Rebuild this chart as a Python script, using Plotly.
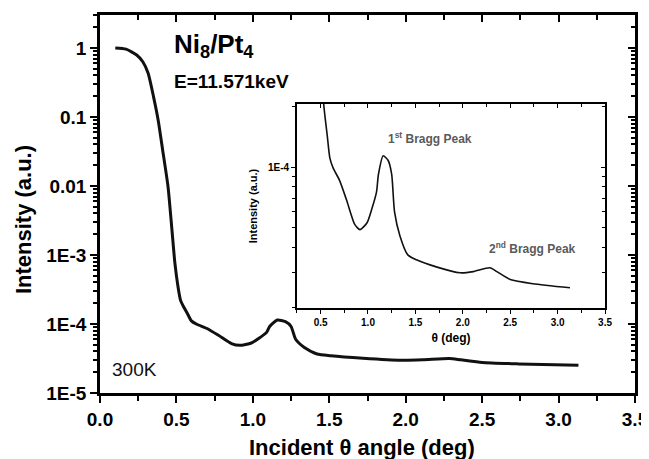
import plotly.graph_objects as go
import math

# ---- data ----
theta = [0.10, 0.17, 0.24, 0.28, 0.315, 0.35, 0.38, 0.41, 0.445, 0.47, 0.49, 0.51,
         0.527, 0.545, 0.57, 0.598, 0.633, 0.70, 0.775, 0.86, 0.915, 0.99, 1.04,
         1.09, 1.11, 1.16, 1.213, 1.25, 1.28, 1.337, 1.42, 1.51, 1.72, 1.97, 2.11,
         2.285, 2.36, 2.5, 2.74, 3.13]
intensity = [1.0, 0.96, 0.79, 0.63, 0.43, 0.197, 0.091, 0.033, 0.0098, 2.4e-3, 7.6e-4, 3.5e-4,
             2.2e-4, 1.81e-4, 1.44e-4, 1.11e-4, 9.9e-5, 8.6e-5, 6.85e-5, 5.2e-5, 4.9e-5, 5.3e-5, 6.2e-5,
             7.55e-5, 9.2e-5, 1.14e-4, 1.08e-4, 9.2e-5, 6.0e-5, 4.56e-5, 3.67e-5, 3.47e-5, 3.2e-5, 2.99e-5, 3.03e-5,
             3.17e-5, 3.03e-5, 2.77e-5, 2.64e-5, 2.52e-5]

x_tickvals = [0.0, 0.5, 1.0, 1.5, 2.0, 2.5, 3.0, 3.5]
x_ticktext = ["0.0", "0.5", "1.0", "1.5", "2.0", "2.5", "3.0", "3.5"]
y_tickvals = [1e-5, 1e-4, 1e-3, 0.01, 0.1, 1]
y_ticktext = ["1E-5", "1E-4", "1E-3", "0.01", "0.1", "1"]
y_minorvals = [k * 10.0 ** e for e in range(-5, 1) for k in range(2, 10)]

inset_x_tickvals = [0.5, 1.0, 1.5, 2.0, 2.5, 3.0, 3.5]
inset_x_ticktext = ["0.5", "1.0", "1.5", "2.0", "2.5", "3.0", "3.5"]
inset_y_tickvals = [1e-4]
inset_y_ticktext = ["1E-4"]
inset_y_minorvals = [2e-5, 3e-5, 4e-5, 5e-5, 6e-5, 7e-5, 8e-5, 9e-5, 2e-4]

FONT = "Liberation Sans, Arial, sans-serif"
BLACK = "#000000"

fig = go.Figure()
fig.add_trace(go.Scatter(x=theta, y=intensity, mode="lines",
                         line=dict(color="#111111", width=3, shape="spline", smoothing=0.6),
                         xaxis="x", yaxis="y", showlegend=False, hoverinfo="skip"))
fig.add_trace(go.Scatter(x=theta, y=intensity, mode="lines",
                         line=dict(color="#111111", width=1.6, shape="spline", smoothing=0.6),
                         xaxis="x2", yaxis="y2", showlegend=False, hoverinfo="skip"))
# empty traces so the mirrored (top/right) axes are drawn
fig.add_trace(go.Scatter(x=[], y=[], xaxis="x3", yaxis="y3", showlegend=False))
fig.add_trace(go.Scatter(x=[], y=[], xaxis="x4", yaxis="y4", showlegend=False))

main_tick = dict(family=FONT, size=19, color=BLACK, weight="bold")
ins_tick = dict(family=FONT, size=10, color=BLACK, weight="bold")

# the page body has an 8px default margin, so the figure is sized to compensate
fig.update_layout(
    template="none",
    width=641, height=451,
    margin=dict(l=92, r=14, t=7, b=66),
    paper_bgcolor="white", plot_bgcolor="white",
    showlegend=False,
    xaxis=dict(domain=[0, 1], range=[0, 3.5], anchor="y", automargin=False,
               showline=True, linecolor=BLACK, linewidth=2.6,
               ticks="outside", ticklen=7, tickwidth=2.4, tickcolor=BLACK,
               tickvals=x_tickvals, ticktext=x_ticktext, tickfont=main_tick,
               minor=dict(ticks="outside", ticklen=5, tickwidth=2.2, tickcolor=BLACK,
                          dtick=0.25, tick0=0, showgrid=False),
               showgrid=False, zeroline=False),
    yaxis=dict(domain=[0, 1], type="log", range=[-5, math.log10(3.0)], anchor="x", automargin=False,
               showline=True, linecolor=BLACK, linewidth=2.6,
               ticks="outside", ticklen=7, tickwidth=2.4, tickcolor=BLACK,
               tickvals=y_tickvals, ticktext=y_ticktext, tickfont=main_tick,
               minor=dict(ticks="outside", ticklen=4, tickwidth=1.8, tickcolor=BLACK,
                          tickvals=y_minorvals, showgrid=False),
               showgrid=False, zeroline=False),
    xaxis3=dict(overlaying="x", side="top", anchor="y", range=[0, 3.5], automargin=False,
                showline=True, linecolor=BLACK, linewidth=2.6,
                ticks="inside", ticklen=7, tickwidth=2.4, tickcolor=BLACK,
                tickvals=x_tickvals, showticklabels=False,
                minor=dict(ticks="inside", ticklen=5, tickwidth=2.2, tickcolor=BLACK,
                           dtick=0.25, tick0=0, showgrid=False),
                showgrid=False, zeroline=False),
    yaxis3=dict(overlaying="y", side="right", anchor="x", type="log", range=[-5, math.log10(3.0)],
                automargin=False,
                showline=True, linecolor=BLACK, linewidth=2.6,
                ticks="inside", ticklen=7, tickwidth=2.4, tickcolor=BLACK,
                tickvals=y_tickvals, showticklabels=False,
                minor=dict(ticks="inside", ticklen=4, tickwidth=1.8, tickcolor=BLACK,
                           tickvals=y_minorvals, showgrid=False),
                showgrid=False, zeroline=False),
    # inset
    xaxis2=dict(domain=[0.368, 0.944], range=[0.25, 3.5], anchor="y2", automargin=False,
                showline=True, linecolor=BLACK, linewidth=1.6,
                ticks="outside", ticklen=4, tickwidth=1.4, tickcolor=BLACK,
                tickvals=inset_x_tickvals, ticktext=inset_x_ticktext, tickfont=ins_tick,
                minor=dict(ticks="outside", ticklen=3, tickwidth=1.2, tickcolor=BLACK,
                           dtick=0.25, tick0=0, showgrid=False),
                title=dict(text="θ (deg)", font=dict(family=FONT, size=12, color=BLACK, weight="bold"),
                           standoff=7),
                showgrid=False, zeroline=False),
    yaxis2=dict(domain=[0.2249, 0.7646], type="log",
                range=[math.log10(2e-5), math.log10(2.06e-4)], anchor="x2", automargin=False,
                showline=True, linecolor=BLACK, linewidth=1.6,
                ticks="outside", ticklen=4, tickwidth=1.4, tickcolor=BLACK,
                tickvals=inset_y_tickvals, ticktext=inset_y_ticktext, tickfont=ins_tick,
                minor=dict(ticks="outside", ticklen=3, tickwidth=1.2, tickcolor=BLACK,
                           tickvals=inset_y_minorvals, showgrid=False),
                title=dict(text="Intensity (a.u.)", font=dict(family=FONT, size=11, color=BLACK, weight="bold"),
                           standoff=8),
                showgrid=False, zeroline=False),
    xaxis4=dict(overlaying="x2", side="top", anchor="y2", range=[0.25, 3.5], automargin=False,
                showline=True, linecolor=BLACK, linewidth=1.6,
                ticks="inside", ticklen=4, tickwidth=1.4, tickcolor=BLACK,
                tickvals=inset_x_tickvals, showticklabels=False,
                minor=dict(ticks="inside", ticklen=3, tickwidth=1.2, tickcolor=BLACK,
                           dtick=0.25, tick0=0, showgrid=False),
                showgrid=False, zeroline=False),
    yaxis4=dict(overlaying="y2", side="right", anchor="x2", type="log",
                range=[math.log10(2e-5), math.log10(2.06e-4)], automargin=False,
                showline=True, linecolor=BLACK, linewidth=1.6,
                ticks="inside", ticklen=4, tickwidth=1.4, tickcolor=BLACK,
                tickvals=inset_y_tickvals, showticklabels=False,
                minor=dict(ticks="inside", ticklen=3, tickwidth=1.2, tickcolor=BLACK,
                           tickvals=inset_y_minorvals, showgrid=False),
                showgrid=False, zeroline=False),
)

annotations = [
    dict(text="Incident θ angle (deg)", x=0.49, y=-0.145, xref="paper", yref="paper",
         xanchor="center", yanchor="middle", showarrow=False,
         font=dict(family=FONT, size=22, color=BLACK, weight="bold")),
    dict(text="Intensity (a.u.)", x=-0.144, y=0.46, xref="paper", yref="paper",
         xanchor="center", yanchor="middle", textangle=-90, showarrow=False,
         font=dict(family=FONT, size=22, color=BLACK, weight="bold")),
    dict(text="Ni<sub>8</sub>/Pt<sub>4</sub>", x=0.1346, y=0.968, xref="paper", yref="paper",
         xanchor="left", yanchor="top", showarrow=False,
         font=dict(family=FONT, size=26, color=BLACK, weight="bold")),
    dict(text="E=11.571keV", x=0.1346, y=0.825, xref="paper", yref="paper",
         xanchor="left", yanchor="middle", showarrow=False,
         font=dict(family=FONT, size=19, color=BLACK, weight="bold")),
    dict(text="300K", x=0.0187, y=0.061, xref="paper", yref="paper",
         xanchor="left", yanchor="middle", showarrow=False,
         font=dict(family=FONT, size=19, color="#111111")),
    dict(text="1<sup>st</sup> Bragg Peak", x=0.5346, y=0.6746, xref="paper", yref="paper",
         xanchor="left", yanchor="middle", showarrow=False,
         font=dict(family=FONT, size=12, color="#5a5a5a", weight="bold")),
    dict(text="2<sup>nd</sup> Bragg Peak", x=0.7234, y=0.3836, xref="paper", yref="paper",
         xanchor="left", yanchor="middle", showarrow=False,
         font=dict(family=FONT, size=12, color="#5a5a5a", weight="bold")),
]
fig.update_layout(annotations=annotations)

fig.write_html("out.html")
